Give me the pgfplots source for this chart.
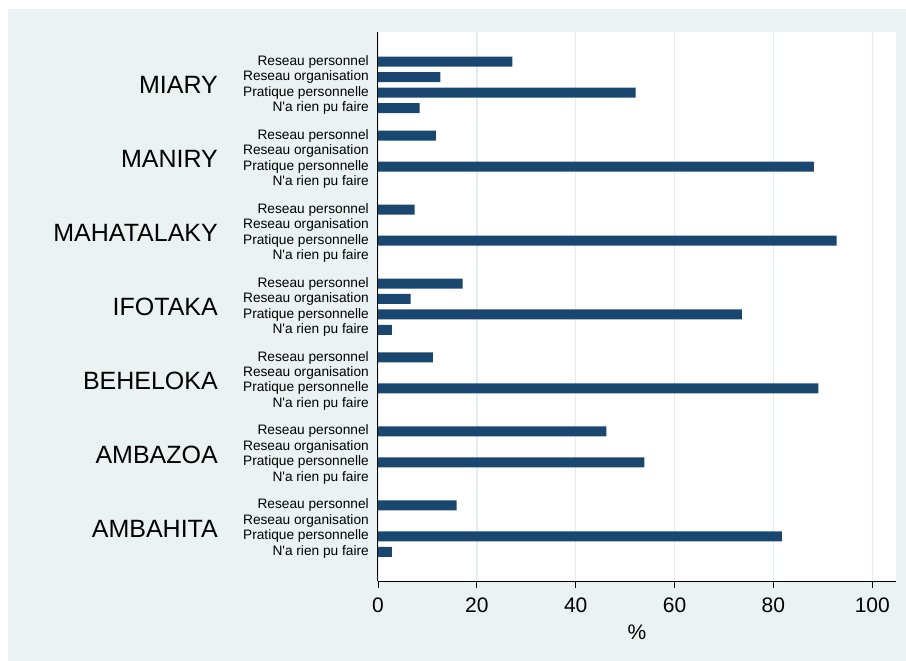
\documentclass[border=0pt]{standalone}
\usepackage{pgfplots}
\pgfplotsset{compat=1.18}
\usepackage{fontspec}
\setmainfont{Liberation Sans}
\definecolor{bgcol}{HTML}{EAF2F3}
\definecolor{barcol}{HTML}{1A476F}
\definecolor{gridcol}{HTML}{E3ECF0}
\newcommand{\nr}{N\textquotesingle a rien pu faire}
\begin{document}
\begin{tikzpicture}
\fill[white] (0,0) rectangle (906pt,661pt);
\fill[bgcol] (8pt,0) rectangle (906pt,652pt);
\begin{axis}[
  at={(378pt,80pt)}, anchor=south west,
  scale only axis, width=518pt, height=549pt,
  axis background/.style={fill=white},
  xmin=0, xmax=104.8,
  ymin=-1.92, ymax=33.57, y dir=reverse,
  axis x line*=bottom, axis y line*=left,
  axis line style={black, line width=1pt},
  xtick={0,20,40,60,80,100},
  xmajorgrids, major grid style={gridcol, line width=1.5pt},
  x tick style={black, line width=0.9pt},
  major tick length=7pt,
  tick align=outside,
  /pgf/number format/assume math mode=true,
  xticklabel style={font=\fontsize{21}{25}\selectfont, anchor=center, yshift=-17pt},
  xlabel={\%},
  xlabel style={font=\fontsize{21}{25}\selectfont, at={(axis description cs:0.5,0)}, anchor=center, yshift=-51pt},
  ytick={0,1,2,3,4.78,5.78,6.78,7.78,9.56,10.56,11.56,12.56,14.34,15.34,16.34,17.34,19.12,20.12,21.12,22.12,23.90,24.90,25.90,26.90,28.68,29.68,30.68,31.68},
  yticklabels={Reseau personnel,Reseau organisation,Pratique personnelle,\nr,
    Reseau personnel,Reseau organisation,Pratique personnelle,\nr,
    Reseau personnel,Reseau organisation,Pratique personnelle,\nr,
    Reseau personnel,Reseau organisation,Pratique personnelle,\nr,
    Reseau personnel,Reseau organisation,Pratique personnelle,\nr,
    Reseau personnel,Reseau organisation,Pratique personnelle,\nr,
    Reseau personnel,Reseau organisation,Pratique personnelle,\nr},
  y tick style={draw=none},
  yticklabel style={font=\fontsize{13.7}{15}\selectfont, anchor=east, inner sep=0pt, xshift=-2pt},
  extra y ticks={1.5,6.28,11.06,15.84,20.62,25.40,30.18},
  extra y tick labels={MIARY,MANIRY,MAHATALAKY,IFOTAKA,BEHELOKA,AMBAZOA,AMBAHITA},
  extra y tick style={yticklabel style={font=\fontsize{25}{29}\selectfont, xshift=-151pt}},
  clip=false,
]
\addplot[xbar, bar width=10pt, fill=barcol, draw=none] coordinates {
  (27.2,0) (12.6,1) (52.1,2) (8.4,3)
  (11.7,4.78) (88.2,6.78)
  (7.4,9.56) (92.8,11.56)
  (17.1,14.34) (6.6,15.34) (73.6,16.34) (2.8,17.34)
  (11.1,19.12) (89.1,21.12)
  (46.2,23.90) (53.9,25.90)
  (15.9,28.68) (81.7,30.68) (2.8,31.68)
};
\end{axis}
\end{tikzpicture}
\end{document}
